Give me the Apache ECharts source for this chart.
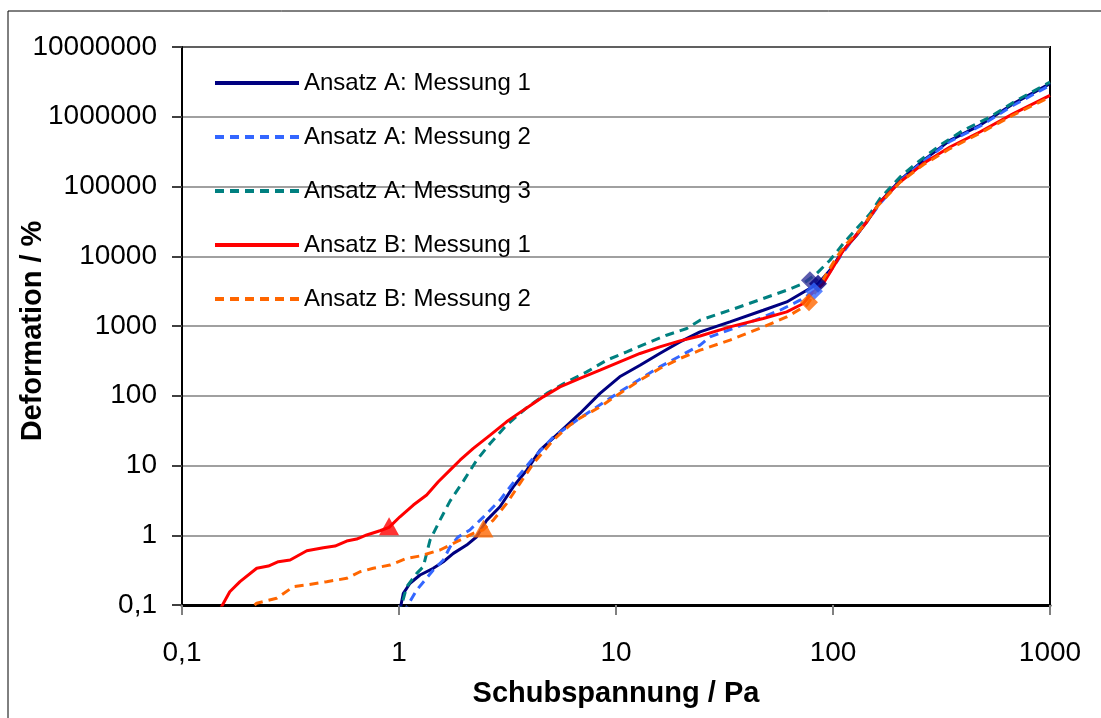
<!DOCTYPE html>
<html>
<head>
<meta charset="utf-8">
<script src="https://cdn.jsdelivr.net/npm/echarts@6/dist/echarts.min.js"></script>
<style>
html,body{margin:0;padding:0;background:#fff;}
#chart{width:1101px;height:718px;}
</style>
</head>
<body>
<div id="chart"></div>
<script>
// Data (x: Schubspannung / Pa, y: Deformation / %)
const seriesNames = ['Ansatz A: Messung 1','Ansatz A: Messung 2','Ansatz A: Messung 3','Ansatz B: Messung 1','Ansatz B: Messung 2'];
const xTitle = 'Schubspannung / Pa';
const yTitle = 'Deformation / %';

const ansatzA1 = [[1.0,0.072],[1.047,0.147],[1.124,0.205],[1.25,0.269],[1.439,0.336],[1.6,0.417],[1.78,0.55],[2.05,0.724],[2.28,0.952],[2.54,1.65],[2.92,2.56],[3.36,4.95],[3.88,8.59],[4.47,16.6],[5.52,30.4],[6.82,55.7],[8.44,108],[10.4,187],[12.9,274],[15.9,404],[19.7,592],[24.4,824],[33.5,1146],[47.7,1683],[61.2,2213],[75.7,3258],[85.5,4064],[96.8,6300],[111.6,12190],[128.5,20000],[148.3,36560],[164.8,60000],[203.7,123000],[260.8,237000],[346,459000],[475,753000],[678,1540000],[1000,2980000]];

const ansatzA2 = [[1.04,0.075],[1.1,0.1],[1.207,0.164],[1.439,0.317],[1.6,0.441],[1.718,0.678],[1.87,0.942],[2.12,1.19],[2.446,1.82],[2.92,3.19],[3.49,6.6],[4.16,12.8],[5.14,25.5],[6.14,37.9],[6.82,47.8],[10.4,114],[15.9,259],[24.4,531],[27.1,698],[40,1086],[57,1683],[70.5,2344],[81.2,3083],[93.5,5050],[107.7,9770],[124.1,17940],[143,30980],[164.8,56880],[203.7,120000],[260.8,230000],[346,444000],[475,730000],[678,1460000],[1000,2820000]];

const ansatzA3 = [[1.0,0.072],[1.085,0.183],[1.207,0.284],[1.294,0.354],[1.39,0.853],[1.545,1.65],[1.718,3.09],[1.98,5.98],[2.28,11.9],[2.63,20.7],[3.13,37.9],[3.88,67.6],[4.8,108],[5.93,158],[7.33,220],[9.06,324],[11.2,426],[13.8,561],[17.1,738],[21.2,920],[24.4,1211],[33.5,1683],[47.7,2477],[61.2,3258],[73,4064],[84.1,5650],[96.8,8770],[111.6,15200],[128.5,24950],[148.3,40900],[164.8,67100],[203.7,137000],[251.8,237000],[311,389000],[398,638000],[529,990000],[703,1720000],[1000,3140000]];

const ansatzB1 = [[0.145,0.072],[0.166,0.155],[0.185,0.216],[0.221,0.336],[0.25,0.362],[0.278,0.417],[0.315,0.441],[0.376,0.6],[0.448,0.662],[0.507,0.7],[0.574,0.826],[0.638,0.883],[0.71,1.01],[0.817,1.16],[0.9,1.3],[1.01,1.84],[1.164,2.71],[1.341,3.77],[1.517,5.84],[1.718,8.59],[1.91,11.9],[2.2,17.6],[2.63,27.3],[3.13,42.3],[3.74,62.2],[4.62,96.4],[5.52,134],[6.82,177],[8.44,233],[10.4,306],[12.9,404],[15.9,502],[19.7,612],[24.4,718],[33.5,971],[47.7,1280],[61.2,1592],[73,2100],[79.8,2922],[90.2,4064],[100.3,7031],[111.6,12190],[124.1,17940],[143,30980],[164.8,60000],[203.7,116000],[260.8,213000],[346,368000],[475,604000],[678,1107000],[1000,2030000]];

const ansatzB2 = [[0.1916,0.072],[0.221,0.106],[0.273,0.125],[0.326,0.183],[0.376,0.194],[0.464,0.216],[0.574,0.241],[0.661,0.3],[0.761,0.336],[0.909,0.374],[1.085,0.467],[1.25,0.504],[1.545,0.614],[1.845,0.807],[2.2,1.065],[2.446,1.2],[2.72,1.65],[3.135,2.86],[3.61,5.54],[4.16,10.7],[5.14,23.1],[6.14,37.9],[6.82,47.8],[8.44,69.3],[10.4,108],[12.9,167],[15.9,246],[19.7,342],[24.4,450],[33.5,627],[47.7,971],[61.2,1349],[75.7,1986],[84.1,3258],[93.5,5650],[104,9770],[115.6,15200],[133,23560],[159,50800],[203.7,115000],[260.8,205000],[346,350000],[475,580000],[678,1060000],[1000,1920000]];

// Marker points (triangles and diamonds)
const triangleRed = [[0.9,1.35]];
const triangleOrange = [[2.45,1.25]];
const diamondSlate = [[78.3,4530]];
const diamondNavy = [[85.3,4036]];
const diamondBlue = [[81.7,3155]];
const diamondOrange = [[77.5,2193]];

const colors = {navy:'#000080', blue:'#3366FF', teal:'#008080', red:'#FF0000', orange:'#FF6600', slate:'#333399'};
const FONT = "'Liberation Sans', Arial, sans-serif";

function fmt(v){
  let s = v < 1 ? v.toFixed(1) : String(Math.round(v));
  return s.replace('.', ',');
}

const chart = echarts.init(document.getElementById('chart'), null, {renderer:'canvas'});
const lineSeries = (name, data, color, dashed) => ({
  name, type:'line', data, symbol:'none', showSymbol:false, smooth:false, clip:true,
  lineStyle:{color, width:3, type: dashed ? [9,6] : 'solid'},
  itemStyle:{color}, animation:false, z:2
});
const marker = (data, color, symbol, size) => ({
  type:'scatter', data, symbol, symbolSize:size, itemStyle:{color}, animation:false, z:5, silent:true
});

chart.setOption({
  animation:false,
  textStyle:{fontFamily:FONT},
  graphic:[
    {type:'rect', shape:{x:8,y:11,width:1200,height:800}, style:{fill:'none', stroke:'#000', lineWidth:1}, z:-1},
    {type:'text', x:33, y:331, rotation:Math.PI/2,
     style:{text:yTitle, fontFamily:FONT, fontSize:29, fontWeight:'bold', fill:'#000', align:'center', verticalAlign:'middle'}}
  ],
  grid:{left:182, right:51, top:47, bottom:113, show:true, borderColor:'#000', borderWidth:2, backgroundColor:'transparent', containLabel:false, outerBoundsMode:'none'},
  legend:{
    data:seriesNames, orient:'vertical', left:213, top:71, padding:0, itemWidth:84, itemHeight:24, itemGap:30,
    textStyle:{fontFamily:FONT, fontSize:24, color:'#000', lineHeight:24},
    lineStyle:{width:4}, itemStyle:{opacity:0, borderWidth:0}, selectedMode:false
  },
  xAxis:{
    type:'log', logBase:10, min:0.1, max:1000,
    name:xTitle, nameLocation:'middle', nameGap:74, nameMoveOverlap:false,
    nameTextStyle:{fontFamily:FONT, fontSize:29, fontWeight:'bold', color:'#000'},
    axisLine:{lineStyle:{color:'#000', width:3}},
    axisTick:{show:true, length:10, inside:false, lineStyle:{color:'#808080', width:2}},
    axisLabel:{formatter:fmt, fontFamily:FONT, fontSize:28, color:'#000', margin:34},
    splitLine:{show:false}, minorTick:{show:false}
  },
  yAxis:{
    type:'log', logBase:10, min:0.1, max:10000000,
    axisLine:{lineStyle:{color:'#000', width:2}},
    axisTick:{show:true, length:10, inside:false, lineStyle:{color:'#404040', width:2}},
    axisLabel:{formatter:fmt, fontFamily:FONT, fontSize:28, color:'#000', margin:25},
    splitLine:{show:true, lineStyle:{color:'#808080', width:1.5}}, minorTick:{show:false}
  },
  series:[
    lineSeries(seriesNames[0], ansatzA1, colors.navy, false),
    lineSeries(seriesNames[1], ansatzA2, colors.blue, true),
    lineSeries(seriesNames[2], ansatzA3, colors.teal, true),
    lineSeries(seriesNames[3], ansatzB1, colors.red, false),
    lineSeries(seriesNames[4], ansatzB2, colors.orange, true),
    marker(triangleRed, colors.red, 'triangle', [20,18]),
    marker(triangleOrange, colors.orange, 'triangle', [20,18]),
    marker(diamondSlate, colors.slate, 'diamond', 18),
    marker(diamondNavy, colors.navy, 'diamond', 18),
    marker(diamondBlue, colors.blue, 'diamond', 18),
    marker(diamondOrange, colors.orange, 'diamond', 18)
  ]
});
</script>
</body>
</html>
